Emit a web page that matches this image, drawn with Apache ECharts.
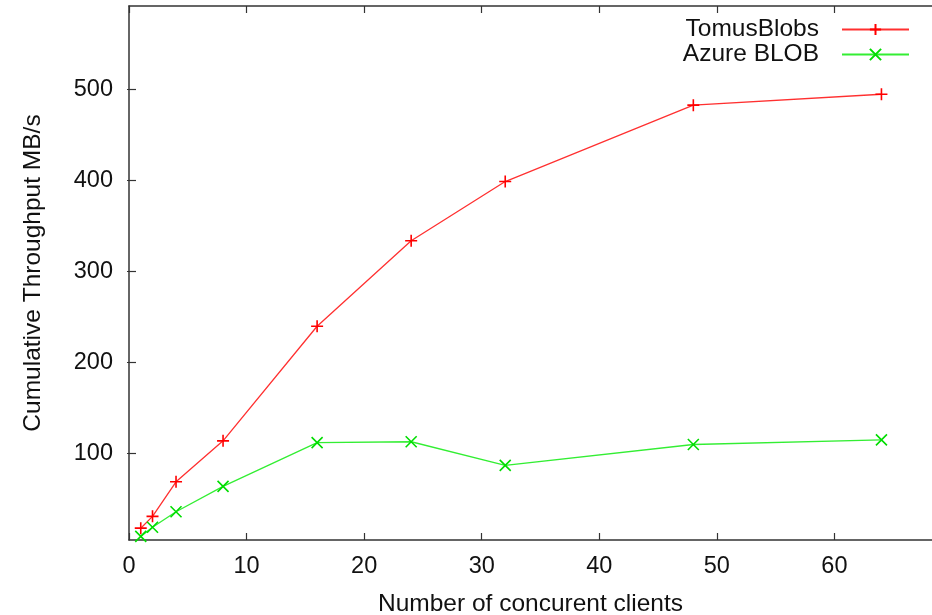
<!DOCTYPE html>
<html>
<head>
<meta charset="utf-8">
<script src="https://cdn.jsdelivr.net/npm/echarts@6/dist/echarts.min.js"></script>
<style>
  html, body { margin: 0; padding: 0; background: #fff; }
  #chart { width: 932px; height: 615px; }
</style>
</head>
<body>
<div id="chart"></div>
<script>
// data
var clients = [1, 2, 4, 8, 16, 24, 32, 48, 64];
var tomusBlobs = [18, 31, 69, 114, 240, 334, 399, 483, 495];
var azureBlob = [9, 19, 36, 64, 112, 113, 87, 110, 115];
var xTicks = [0, 10, 20, 30, 40, 50, 60];
var yTicks = [100, 200, 300, 400, 500];

var X_MIN = 0, X_MAX = 68.3;
var Y_MIN = 5, Y_MAX = 592;

var font = 'Liberation Sans, Arial, sans-serif';
var axisColor = '#333';

function pairs(xs, ys) {
  return xs.map(function (x, i) { return [x, ys[i]]; });
}

var plus = 'path://M0,5L10,5M5,0L5,10';
var cross = 'path://M0,0L10,10M0,10L10,0';

function frameAxis(extra) {
  return Object.assign({
    type: 'value',
    axisLine: { show: true, onZero: false, lineStyle: { color: axisColor, width: 1.5 } },
    axisTick: { show: true, inside: true, length: 7, lineStyle: { color: axisColor, width: 1.2 } },
    axisLabel: { show: false },
    splitLine: { show: false }
  }, extra);
}

var chart = echarts.init(document.getElementById('chart'));

chart.setOption({
  animation: false,
  backgroundColor: '#fff',
  grid: { left: 129, right: 0, top: 6, bottom: 75, containLabel: false, outerBoundsMode: 'none' },
  legend: {
    right: 22,
    top: 17,
    orient: 'vertical',
    align: 'right',
    padding: 0,
    itemGap: 0,
    itemWidth: 67,
    itemHeight: 14,
    textStyle: { fontFamily: font, fontSize: 24.5, color: '#111', lineHeight: 25, padding: [0, 18, 0, 0] },
    data: ['TomusBlobs', 'Azure BLOB']
  },
  xAxis: [
    frameAxis({
      position: 'bottom',
      min: X_MIN, max: X_MAX,
      name: 'Number of concurent clients',
      nameLocation: 'middle',
      nameGap: 52,
      nameTextStyle: { fontFamily: font, fontSize: 24.5, color: '#111' },
      axisTick: { show: true, inside: true, length: 7, customValues: xTicks, lineStyle: { color: axisColor, width: 1.2 } },
      axisLabel: { show: true, customValues: xTicks, margin: 15, fontFamily: font, fontSize: 23.5, color: '#111' }
    }),
    frameAxis({
      position: 'top',
      min: X_MIN, max: X_MAX,
      axisTick: { show: true, inside: true, length: 7, customValues: xTicks, lineStyle: { color: axisColor, width: 1.2 } }
    })
  ],
  yAxis: [
    frameAxis({
      position: 'left',
      min: Y_MIN, max: Y_MAX,
      name: 'Cumulative Throughput MB/s',
      nameLocation: 'middle',
      nameGap: 83,
      nameTextStyle: { fontFamily: font, fontSize: 24.5, color: '#111' },
      axisTick: { show: true, inside: true, length: 7, customValues: yTicks, lineStyle: { color: axisColor, width: 1.2 } },
      axisLabel: { show: true, customValues: yTicks, margin: 16, fontFamily: font, fontSize: 23.5, color: '#111' }
    }),
    frameAxis({
      position: 'right',
      min: Y_MIN, max: Y_MAX,
      axisLine: { show: false },
      axisTick: { show: true, inside: true, length: 2, customValues: yTicks, lineStyle: { color: axisColor, width: 1.2 } }
    })
  ],
  series: [
    {
      name: 'TomusBlobs',
      type: 'line',
      data: pairs(clients, tomusBlobs),
      symbol: plus,
      symbolSize: 12,
      lineStyle: { color: '#ff3030', width: 1.3 },
      itemStyle: { color: '#ff0000', borderColor: '#ff0000', borderWidth: 1.6 }
    },
    {
      name: 'Azure BLOB',
      type: 'line',
      data: pairs(clients, azureBlob),
      symbol: cross,
      symbolSize: 11,
      lineStyle: { color: '#33ee33', width: 1.3 },
      itemStyle: { color: '#00dd00', borderColor: '#00dd00', borderWidth: 1.6 }
    }
  ]
});
</script>
</body>
</html>
